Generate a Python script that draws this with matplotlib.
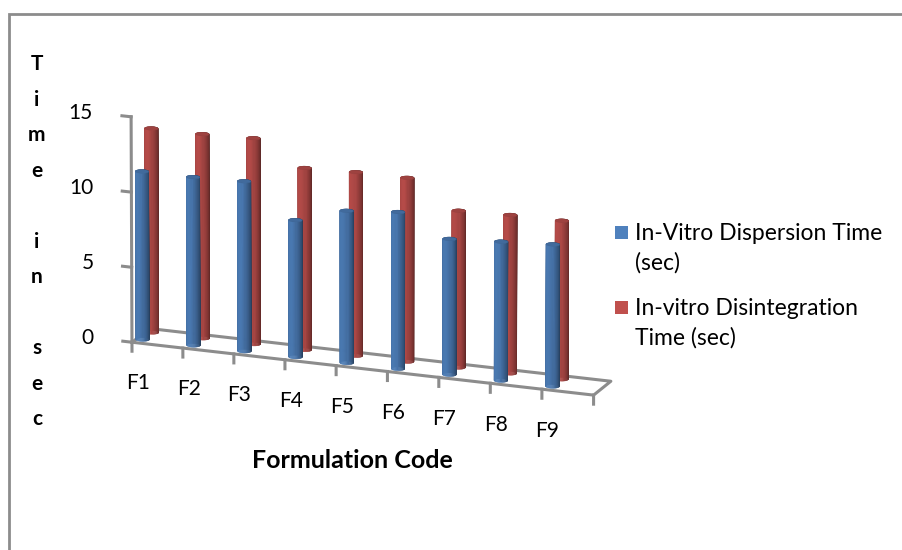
import matplotlib.pyplot as plt
import numpy as np
from matplotlib.patches import Rectangle
from mpl_toolkits.mplot3d.art3d import Poly3DCollection
from matplotlib.colors import LightSource

plt.rcParams['font.family'] = ['Lato', 'DejaVu Sans']

# Datos de la grafica
formulaciones = ['F1', 'F2', 'F3', 'F4', 'F5', 'F6', 'F7', 'F8', 'F9']
dispersion = [11.2, 11.2, 11.3, 9.1, 10.1, 10.4, 9.0, 9.2, 9.4]
desintegracion = [13.6, 13.6, 13.7, 12.1, 12.2, 12.2, 10.4, 10.5, 10.5]
series = ['In-Vitro Dispersion Time\n(sec)', 'In-vitro Disintegration\nTime (sec)']
colores = ['#4F81BD', '#C0504D']
ticks_z = [0, 5, 10, 15]

gris = '#8C8C8C'
fig = plt.figure(figsize=(9.02, 5.5), dpi=100)
fig.patches.append(Rectangle((0.01, -0.1), 1.2, 1.075, transform=fig.transFigure,
                             fill=False, edgecolor=gris, linewidth=2))

ax = fig.add_axes([0.042, -0.007, 0.72, 1.08], projection='3d', computed_zorder=False)
ax.set_proj_type('persp', focal_length=6)
ax.view_init(elev=17, azim=-69)
ax.set_xlim(0, 9)
ax.set_ylim(0, 1)
ax.set_zlim(0, 15)
ax.set_box_aspect((9, 0.9, 4.3), zoom=0.9)
ax.set_axis_off()

luz = LightSource(azdeg=200, altdeg=30)


def cilindro(xc, yc, h, r=0.125, n=36):
    th = np.linspace(0, 2 * np.pi, n + 1)
    caras = []
    for a, b in zip(th[:-1], th[1:]):
        caras.append([(xc + r * np.cos(a), yc + r * np.sin(a), 0),
                      (xc + r * np.cos(b), yc + r * np.sin(b), 0),
                      (xc + r * np.cos(b), yc + r * np.sin(b), h),
                      (xc + r * np.cos(a), yc + r * np.sin(a), h)])
    caras.append([(xc + r * np.cos(a), yc + r * np.sin(a), h) for a in th[:-1]])
    return caras


# Suelo y ejes
x0, x1 = 0, len(formulaciones)
ax.plot([x0, x1, x1, x0, x0], [0, 0, 1, 1, 0], [0, 0, 0, 0, 0], color=gris, lw=2.2, zorder=1)
ax.plot([x0, x0], [0, 0], [0, 15], color=gris, lw=2.2, zorder=1)
for t in ticks_z:
    ax.plot([x0, x0 - 0.18], [0, 0], [t, t], color=gris, lw=2.2, zorder=1)
    ax.text(x0 - 0.75, 0, t, str(t), ha='right', va='center', fontsize=15)
for i in range(x1 + 1):
    ax.plot([i, i], [0, 0], [0, -0.6], color=gris, lw=2.2, zorder=1)

for i, f in enumerate(formulaciones):
    ax.text(i + 0.11, 0, -2.7, f, ha='center', va='center', fontsize=15)

# Cilindros: la serie de atras primero
for k, (valores, yc) in enumerate([(desintegracion, 0.77), (dispersion, 0.25)]):
    color = colores[1 - k]
    for i, v in enumerate(valores):
        pc = Poly3DCollection(cilindro(i + 0.12, yc, v), facecolors=color, edgecolors=color,
                              linewidths=0.3, shade=True, lightsource=luz, zorder=2 + k)
        ax.add_collection3d(pc)

# Titulos
fig.text(0.391, 0.162, 'Formulation Code', ha='center', va='center', fontsize=18, fontweight='bold')
fig.text(0.041, 0.5605, 'T\ni\nm\ne\n\ni\nn\n\ns\ne\nc', ha='center', va='center',
         fontsize=15, fontweight='bold', linespacing=1.97)

# Leyenda
for j, (nombre, c) in enumerate(zip(series, colores)):
    yl = 0.578 - j * 0.137
    fig.patches.append(Rectangle((0.682, yl - 0.012), 0.0144, 0.0236, transform=fig.transFigure,
                                 facecolor=c, edgecolor='none'))
    fig.text(0.704, yl + 0.017, nombre, ha='left', va='top', fontsize=16.5, linespacing=1.45)

fig.savefig('out.png', dpi=100)
